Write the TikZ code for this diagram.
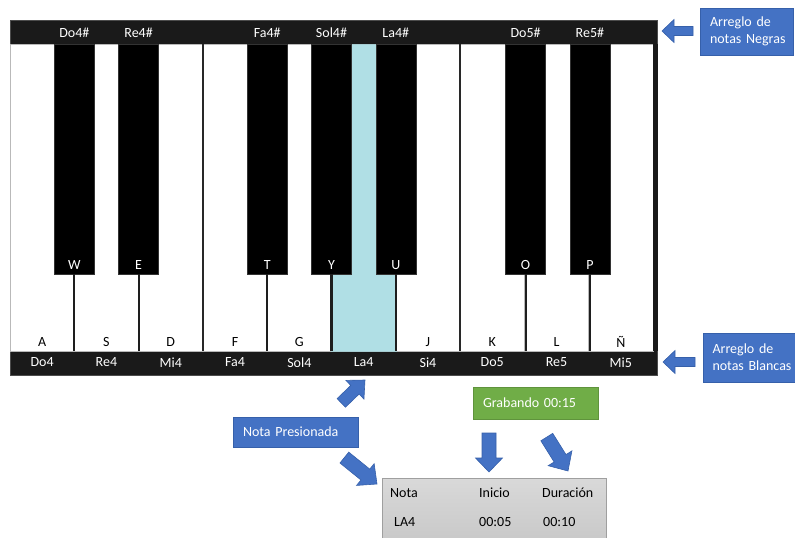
\documentclass[tikz,border=0pt]{standalone}
\usepackage{fontspec}
\setmainfont{Carlito}
\definecolor{barblack}{HTML}{1A1A1A}
\definecolor{pressed}{HTML}{B0DFE5}
\definecolor{officeblue}{HTML}{4472C4}
\definecolor{blueedge}{HTML}{3660AA}
\definecolor{officegreen}{HTML}{70AD47}
\definecolor{keyline}{HTML}{1E1E1E}

% block arrow: tip x, tip y, direction, length, head length, head half-width, shaft half-width
\newcommand\blockarrow[7]{%
  \begin{scope}[shift={(#1,#2)},rotate=#3]
    \filldraw[fill=officeblue,draw=blueedge,line width=0.6pt,line join=miter]
      (0,0) -- (-#5,#6) -- (-#5,#7) -- (-#4,#7) -- (-#4,-#7) -- (-#5,-#7) -- (-#5,-#6) -- cycle;
  \end{scope}}
% indented line inside a callout
\newcommand\ind[1]{\hspace*{#1pt}}

\tikzset{
  txt/.style={font=\fontsize{14}{17}\selectfont, inner sep=0pt},
  barlbl/.style={txt, text=white},
  keylbl/.style={txt, text=black},
  whitekey/.style={draw=gray!55, line width=0.6pt, fill=white, minimum width=64.3,
    minimum height=307, inner sep=0pt, outer sep=0pt},
  blackkey/.style={fill=black, draw=gray!40!black, line width=0.5pt, minimum width=40,
    minimum height=230, inner sep=0pt, outer sep=0pt},
  gapline/.style={draw=keyline, line width=2.2pt},
  divider/.style={draw=keyline!90!gray, line width=2.6pt},
  callout/.style={txt, fill=officeblue, draw=blueedge, line width=0.6pt, text=white,
    align=left, anchor=north west, outer sep=0pt, inner xsep=0pt},
  greenbox/.style={txt, fill=officegreen, draw=officegreen!85!black, line width=0.6pt,
    text=white, align=left, anchor=north west, outer sep=0pt, inner xsep=0pt},
}

\begin{document}
\begin{tikzpicture}[x=1pt,y=-1pt]
\useasboundingbox (0,0) rectangle (795,538);

% keyboard frame with the two label bars
\node[fill=barblack, draw=gray!60!black, line width=0.8pt, minimum width=647,
  minimum height=355, anchor=north west, inner sep=0pt] (frame) at (10,20) {};

% white keys with their key letter and note name
\foreach \i/\k/\n in {0/A/Do4,1/S/Re4,2/D/Mi4,3/F/Fa4,4/G/Sol4,5/H/La4,6/J/Si4,7/K/Do5,8/L/Re5,9/Ñ/Mi5}{
  \pgfmathsetmacro\cx{10+64.3*(\i+0.5)}
  \node[whitekey] (w\i) at (\cx,197.5) {};
  \node[keylbl] (wl\i) at (\cx,342) {\k};
  \node[barlbl] (wn\i) at (\cx,362.5) {\n};
}
% pressed key
\node[whitekey, fill=pressed, draw=pressed!80!gray] (press) at (w5) {};

% right edge of the frame
\fill[barblack] (w9.north east) rectangle (frame.south east |- w9.south east);

% borders between E-F and B-C
\draw[divider] (w2.north east) -- (w2.south east);
\draw[divider] (w6.north east) -- (w6.south east);

% black keys with their key letter and note name
\foreach \j/\k/\n in {1/W/Do4\#,2/E/Re4\#,4/T/Fa4\#,5/Y/Sol4\#,6/U/La4\#,8/O/Do5\#,9/P/Re5\#}{
  \pgfmathsetmacro\cx{10+64.3*\j+(\j>7)*1.2}
  \node[blackkey] (b\j) at (\cx,159) {};
  \node[barlbl] (bl\j) at (\cx,265) {\k};
  \node[barlbl] (bn\j) at (\cx,33) {\n};
  \draw[gapline] (b\j.south) -- (b\j.south |- w0.south);
}

% callouts on the right
\node[callout, text width=93, minimum height=47] (negras) at (700,8)
  {\ind{10}Arreglo de\\\ind{10}notas Negras};
\blockarrow{662}{31}{180}{31}{12}{11.5}{4.5}

\node[callout, text width=92, minimum height=49] (blancas) at (703.5,333)
  {\ind{9}Arreglo de\\\ind{9}notas Blancas};
\blockarrow{663}{362}{180}{32}{12}{11.5}{4.5}

% pressed note
\node[callout, text width=125, minimum height=30] (presion) at (233,417) {\ind{10}Nota Presionada};
\blockarrow{365}{380}{44}{33}{14}{13}{6}
\blockarrow{377}{484}{-39}{42}{15}{14}{7}

% recording state
\node[greenbox, text width=125, minimum height=32] (rec) at (473,387) {\ind{10}Grabando 00:15};
\blockarrow{489}{472}{-90}{39}{14}{13.5}{7}
\blockarrow{568}{471}{-58}{40}{15}{14}{7}

% recorded notes table
\node[top color=gray!30, bottom color=gray!42, draw=gray!75, line width=0.6pt,
  minimum width=224, minimum height=60, anchor=north west, inner sep=0pt] (tabla) at (382,478) {};
\node[txt, anchor=west] (h1) at (390,493) {Nota};
\node[txt, anchor=west] (h2) at (479,493) {Inicio};
\node[txt, anchor=west] (h3) at (542,493) {Duración};
\node[txt, anchor=west] (r1) at (394,522) {LA4};
\node[txt, anchor=west] (r2) at (479,522) {00:05};
\node[txt, anchor=west] (r3) at (543,522) {00:10};
\end{tikzpicture}
\end{document}
